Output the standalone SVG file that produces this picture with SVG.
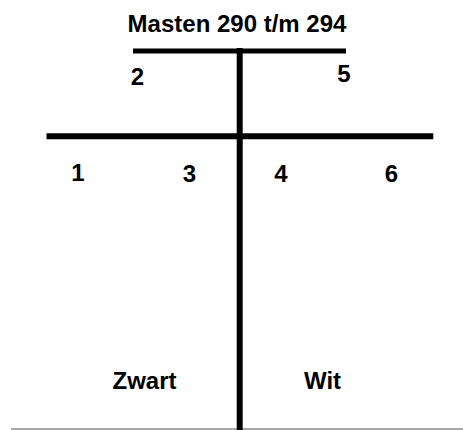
<svg xmlns="http://www.w3.org/2000/svg" width="463" height="430" viewBox="0 0 463 430">
  <style>
    .bar { stroke: #000; stroke-width: 6; fill: none; }
    .base { stroke: #8a8a8a; stroke-width: 1.5; fill: none; }
    .lbl { font-family: "Liberation Sans", Arial, sans-serif; font-weight: bold; font-size: 24px; fill: #000; }
  </style>
  <rect width="463" height="430" fill="#fff"/>
  <text class="lbl" x="237" y="32" text-anchor="middle">Masten 290 t/m 294</text>
  <!-- ground line -->
  <line class="base" x1="11" y1="429" x2="463" y2="429"/>
  <g id="connectors">
    <!-- mast and crossarms -->
    <line id="mast" class="bar" x1="239.7" y1="48" x2="239.7" y2="430"/>
    <line id="upper-arm" class="bar" x1="133" y1="51" x2="346" y2="51" style="stroke-width:5"/>
    <line id="lower-arm" class="bar" x1="46.5" y1="136.3" x2="433.3" y2="136.3"/>
  </g>
  <g id="phase-2"><text class="lbl" x="137.5" y="85" text-anchor="middle">2</text></g>
  <g id="phase-5"><text class="lbl" x="344" y="82" text-anchor="middle">5</text></g>
  <g id="phase-1"><text class="lbl" x="78" y="181" text-anchor="middle">1</text></g>
  <g id="phase-3"><text class="lbl" x="189.5" y="182" text-anchor="middle">3</text></g>
  <g id="phase-4"><text class="lbl" x="281" y="182" text-anchor="middle">4</text></g>
  <g id="phase-6"><text class="lbl" x="391.5" y="182" text-anchor="middle">6</text></g>
  <g id="side-zwart"><text class="lbl" x="144.5" y="389" text-anchor="middle">Zwart</text></g>
  <g id="side-wit"><text class="lbl" x="322.5" y="389" text-anchor="middle">Wit</text></g>
</svg>
